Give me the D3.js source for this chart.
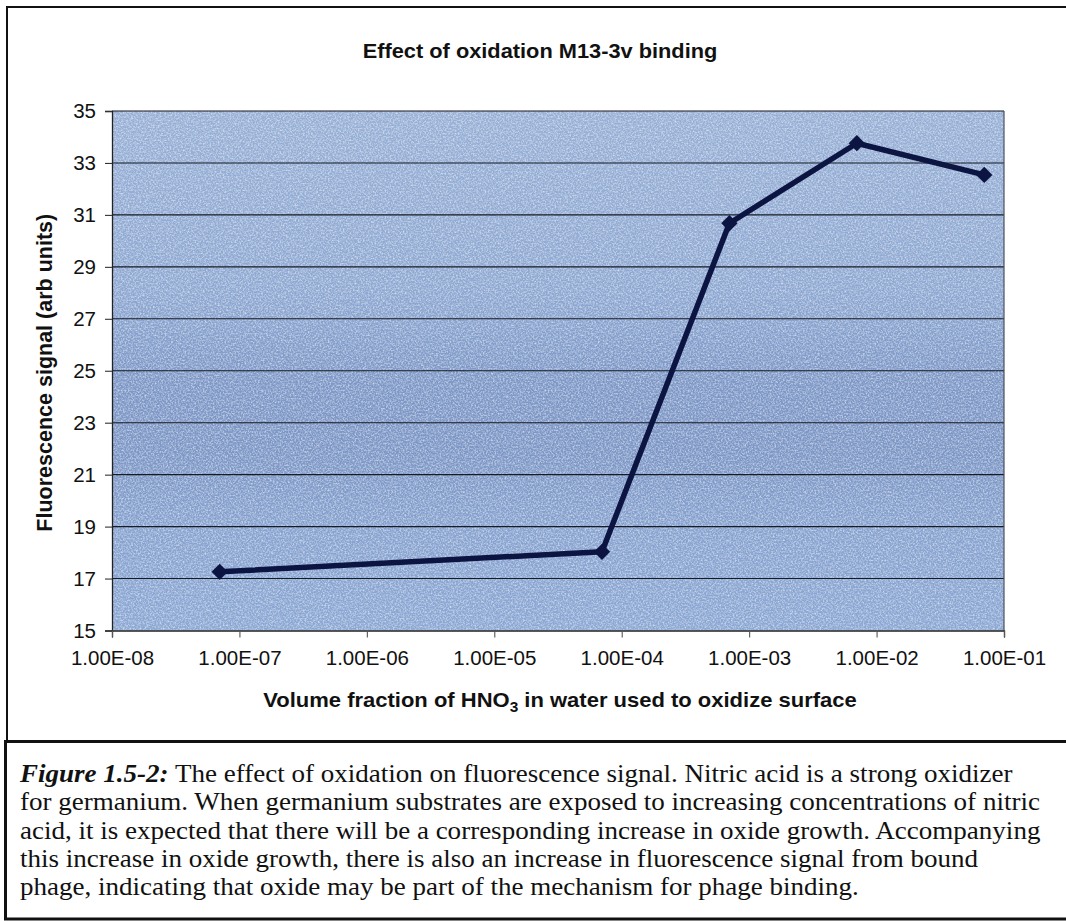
<!DOCTYPE html>
<html>
<head>
<meta charset="utf-8">
<script src="https://cdn.jsdelivr.net/npm/d3@7"></script>
<style>
  html, body { margin: 0; padding: 0; background: #fff; }
  svg { display: block; }
</style>
</head>
<body>
<svg id="chart" width="1066" height="922"></svg>
<script>
// HNO3 volume fraction vs. fluorescence signal of bound M13-3v phage
const fractions = [7e-8, 7e-5, 7e-4, 7e-3, 7e-2];
const signal = [17.26, 18.03, 30.68, 33.76, 32.54];
const xTicks = [1e-8, 1e-7, 1e-6, 1e-5, 1e-4, 1e-3, 1e-2, 1e-1];
const yTicks = [15, 17, 19, 21, 23, 25, 27, 29, 31, 33, 35];
const captionLines = [
  "The effect of oxidation on fluorescence signal. Nitric acid is a strong oxidizer",
  "for germanium. When germanium substrates are exposed to increasing concentrations of nitric",
  "acid, it is expected that there will be a corresponding increase in oxide growth. Accompanying",
  "this increase in oxide growth, there is also an increase in fluorescence signal from bound",
  "phage, indicating that oxide may be part of the mechanism for phage binding."
];

const svg = d3.select("#chart");
const W = 1066, H = 922;
const plot = { left: 112, right: 1004, top: 111, bottom: 630.5 };
const sans = "'Liberation Sans', Arial, Helvetica, sans-serif";
const serif = "'Liberation Serif', 'Times New Roman', serif";

const x = d3.scaleLog().domain([1e-8, 1e-1]).range([plot.left, plot.right]);
const y = d3.scaleLinear().domain([15, 35]).range([plot.bottom, plot.top]);

const defs = svg.append("defs");
const grad = defs.append("linearGradient").attr("id", "plotBg")
  .attr("x1", 0).attr("y1", 0).attr("x2", 0).attr("y2", 1);
[[0, "#98b0d6"], [0.35, "#8ea8d2"], [0.52, "#7d97c6"], [0.66, "#7c96c5"], [0.8, "#87a2cf"], [1, "#8ba7d3"]]
  .forEach(([o, c]) => grad.append("stop").attr("offset", o).attr("stop-color", c));

// speckled paper grain over the plot fill
const grain = defs.append("filter").attr("id", "grain")
  .attr("x", 0).attr("y", 0).attr("width", 1).attr("height", 1);
grain.append("feTurbulence").attr("type", "fractalNoise")
  .attr("baseFrequency", 0.6).attr("numOctaves", 2).attr("seed", 7).attr("result", "n");
grain.append("feColorMatrix").attr("in", "n").attr("type", "matrix")
  .attr("values", "0 0 0 0 0.95  0 0 0 0 0.97  0 0 0 0 1  2.2 0 0 0 -0.85")
  .attr("result", "speck");
grain.append("feComposite").attr("in", "speck").attr("in2", "SourceGraphic").attr("operator", "in");

// page background and outer frame
svg.append("rect").attr("width", W).attr("height", H).attr("fill", "#fff");
svg.append("path")
  .attr("d", `M7,741 V7 H${W}`)
  .attr("fill", "none").attr("stroke", "#111").attr("stroke-width", 2);

// plot area
const pw = plot.right - plot.left, ph = plot.bottom - plot.top;
svg.append("rect").attr("x", plot.left).attr("y", plot.top)
  .attr("width", pw).attr("height", ph).attr("fill", "url(#plotBg)");
svg.append("rect").attr("x", plot.left).attr("y", plot.top)
  .attr("width", pw).attr("height", ph).attr("fill", "#fff")
  .attr("filter", "url(#grain)").attr("opacity", 0.6);

// horizontal gridlines
svg.append("g").selectAll("line").data(yTicks.slice(1)).join("line")
  .attr("x1", plot.left).attr("x2", plot.right)
  .attr("y1", d => y(d)).attr("y2", d => y(d))
  .attr("stroke", "#161b26").attr("stroke-width", 1.1);
// right edge of plot
svg.append("line").attr("x1", plot.right).attr("x2", plot.right)
  .attr("y1", plot.top).attr("y2", plot.bottom)
  .attr("stroke", "#4a4f5c").attr("stroke-width", 1.2);

// y axis
const yAxis = svg.append("g").attr("transform", `translate(${plot.left},0)`)
  .call(d3.axisLeft(y).tickValues(yTicks).tickSize(7).tickPadding(9).tickFormat(d3.format("d")));
yAxis.select(".domain").attr("stroke", "#222").attr("stroke-width", 1.3);
yAxis.selectAll(".tick line").attr("stroke", "#333").attr("stroke-width", 1.1);
yAxis.selectAll("text").attr("font-family", sans).attr("font-size", 20.5).attr("fill", "#111");

// x axis
const fmtSci = d => {
  const e = Math.round(Math.log10(d));
  return "1.00E" + (e < 0 ? "-" : "+") + String(Math.abs(e)).padStart(2, "0");
};
const xAxis = svg.append("g").attr("transform", `translate(0,${plot.bottom})`)
  .call(d3.axisBottom(x).tickValues(xTicks).tickSize(7).tickPadding(13).tickFormat(fmtSci));
xAxis.select(".domain").attr("stroke", "#222").attr("stroke-width", 1.3);
xAxis.selectAll(".tick line").attr("stroke", "#555").attr("stroke-width", 1.1);
xAxis.selectAll("text").attr("font-family", sans).attr("font-size", 20.5).attr("fill", "#111");

// series line and diamond markers
const pts = fractions.map((f, i) => [f, signal[i]]);
svg.append("path").datum(pts)
  .attr("d", d3.line().x(d => x(d[0])).y(d => y(d[1])))
  .attr("fill", "none").attr("stroke", "#0c1442").attr("stroke-width", 5.5)
  .attr("stroke-linejoin", "round");
svg.append("g").selectAll("path").data(pts).join("path")
  .attr("d", d3.symbol(d3.symbolDiamond2, 170))
  .attr("transform", d => `translate(${x(d[0])},${y(d[1])})`)
  .attr("fill", "#0c1442");

// titles (set slightly wide, as in the printed figure)
svg.append("text").attr("transform", "translate(540,58) scale(1.09,1)").attr("text-anchor", "middle")
  .attr("font-family", sans).attr("font-weight", "bold").attr("font-size", 20).attr("fill", "#111")
  .text("Effect of oxidation M13-3v binding");

const xt = svg.append("text").attr("transform", "translate(560,707) scale(1.1,1)").attr("text-anchor", "middle")
  .attr("font-family", sans).attr("font-weight", "bold").attr("font-size", 20).attr("fill", "#111");
xt.append("tspan").text("Volume fraction of HNO");
xt.append("tspan").attr("font-size", 14).attr("dy", 5).text("3");
xt.append("tspan").attr("dy", -5).text(" in water used to oxidize surface");

svg.append("text")
  .attr("transform", `translate(52,${(plot.top + plot.bottom) / 2 + 2}) rotate(-90)`)
  .attr("text-anchor", "middle")
  .attr("font-family", sans).attr("font-weight", "bold").attr("font-size", 21.5).attr("fill", "#111")
  .text("Fluorescence signal (arb units)");

// caption box
svg.append("rect").attr("x", 5.5).attr("y", 741.5).attr("width", W + 10).attr("height", 177.5)
  .attr("fill", "#fff").attr("stroke", "#111").attr("stroke-width", 3);
const cap = svg.append("g").attr("transform", "translate(20,0) scale(1.06,1)")
  .attr("font-family", serif).attr("font-size", 25.5).attr("fill", "#111");
captionLines.forEach((line, i) => {
  const t = cap.append("text").attr("x", 0).attr("y", 782 + i * 28.3);
  if (i === 0) {
    t.append("tspan").attr("font-weight", "bold").attr("font-style", "italic").text("Figure 1.5-2:");
    t.append("tspan").text(" " + line);
  } else {
    t.text(line);
  }
});
</script>
</body>
</html>
